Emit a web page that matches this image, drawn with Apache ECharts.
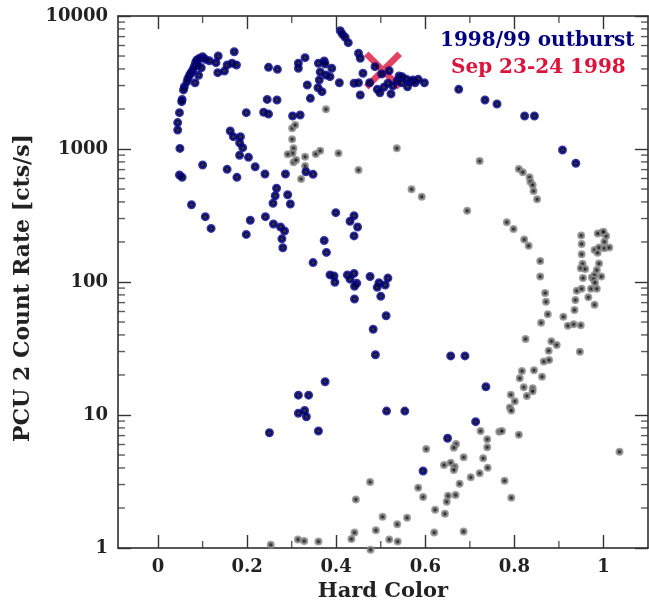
<!DOCTYPE html>
<html><head><meta charset="utf-8">
<script src="https://cdn.jsdelivr.net/npm/echarts@6/dist/echarts.min.js"></script>
<style>html,body{margin:0;padding:0;background:#fff}#c{width:649px;height:600px}</style>
</head><body><div id="c"></div>
<script>
// 1998/99 outburst (blue)
const blueHardColor = [0.100,0.106,0.115,0.130,0.135,0.093,0.087,0.084,0.089,0.081,0.097,0.078,0.074,0.071,0.091,0.067,0.065,0.083,0.059,0.057,0.054,0.053,0.048,0.044,0.044,0.049,0.100,0.134,0.149,0.155,0.166,0.176,0.171,0.248,0.268,0.245,0.267,0.198,0.237,0.248,0.302,0.319,0.315,0.315,0.162,0.169,0.185,0.183,0.190,0.183,0.203,0.218,0.155,
0.409,0.414,0.420,0.427,0.450,0.454,0.330,0.360,0.373,0.375,0.390,0.364,0.377,0.386,0.362,0.335,0.359,0.368,0.342,0.407,0.440,0.450,0.454,0.460,0.475,0.487,0.502,0.519,0.492,0.498,0.507,0.516,0.523,0.527,0.537,0.541,0.548,0.547,0.558,0.560,0.567,0.572,0.577,0.584,0.598,0.675,0.734,0.761,0.823,0.845,0.908,0.938,
0.048,0.054,0.177,0.240,0.286,0.266,0.263,0.291,0.258,0.297,0.075,0.106,0.119,0.207,0.198,0.241,0.259,0.275,0.284,0.278,0.280,
0.332,0.348,0.399,0.440,0.431,0.448,0.440,0.373,0.378,0.348,0.386,0.395,0.397,0.425,0.440,0.431,0.446,0.441,0.476,0.496,0.492,0.510,0.516,0.500,0.441,0.512,0.483,
0.250,0.315,0.338,0.315,0.329,0.333,0.360,0.375,0.488,0.513,0.554,0.657,0.689,0.736,0.713,0.650,0.595];
const blueRate = [4940,4720,4610,4460,5000,4810,4670,4460,4280,4160,4080,3930,3750,3600,3580,3400,3210,3150,2940,2780,2360,2270,1875,1580,1390,1010,758,3750,3855,4280,4410,4280,5390,4110,3970,2360,2335,1875,1890,1830,1770,1800,4410,4040,1365,1238,1238,1115,1023,897,866,736,703,
7750,7280,6920,6300,5250,4810,4860,4410,4590,4360,4040,3790,3600,3500,3300,3030,2890,2700,2405,3150,3120,3150,2546,3710,3150,4160,3665,3880,2810,2650,2910,3120,2595,2978,3265,3540,3500,3150,3342,2940,3210,3300,3150,3342,3150,2810,2335,2180,1770,1770,982,781,
638,612,612,649,649,507,445,453,391,386,381,310,253,291,228,310,273,259,242,211,181,
675,645,332,315,286,259,222,205,167,140,113,111,99.5,113,116,105,97.8,92.8,110,98.8,91.2,94.9,107,78.0,74.5,55.8,44.1,
7.36,14.1,14.1,10.3,10.8,9.71,7.58,17.8,28.4,10.7,10.7,27.8,27.8,16.3,8.91,6.68,3.79];
// other observations (grey)
const grayHardColor = [0.377,0.301,0.308,0.301,0.304,0.302,0.291,0.304,0.310,0.330,0.354,0.364,0.405,0.330,0.321,0.450,0.536,0.722,0.569,0.592,0.694,0.810,0.819,0.834,0.836,0.841,0.843,0.851,0.783,0.798,0.822,0.832,0.858,0.858,0.869,0.871,0.875,0.860,0.910,0.920,0.933,0.949,
0.950,0.951,0.951,0.953,0.949,0.959,0.954,0.940,0.951,0.937,0.935,0.966,0.980,0.972,0.985,0.974,0.980,0.978,0.985,0.981,0.995,0.990,0.980,0.987,0.990,1.002,1.013,1.002,1.006,0.996,0.987,1.000,
0.825,0.883,0.895,0.877,0.947,0.866,0.878,0.817,0.844,0.812,0.862,0.821,0.841,0.841,0.828,0.792,0.801,0.790,0.793,0.724,0.766,0.772,0.810,0.739,0.739,0.730,0.740,0.722,0.778,0.793,1.036,
0.669,0.664,0.602,0.686,0.657,0.642,0.666,0.664,0.702,0.677,0.476,0.584,0.595,0.651,0.668,0.444,
0.622,0.644,0.504,0.559,0.537,0.489,0.441,0.434,0.620,0.686,0.519,0.538,0.477,0.253,0.314,0.328,0.360,0.648];
const grayRate = [1987,1432,1515,1183,1012,929,912,794,827,875,917,971,929,745,595,695,1012,812,498,438,344,707,668,612,568,536,483,419,281,250,209,187,144,110,82.7,71.1,57.2,49.4,54.8,46.9,48.1,47.2,
224,193,162,137,127,125,107,86.0,89.1,73.2,61.6,76.7,67.5,89.1,89.1,108,113,105,123,98.8,110,138,174,166,182,179,182,201,222,235,232,239,
37.3,35.8,33.6,30.4,29.9,25.3,25.9,21.4,21.7,18.9,19.4,16.2,15.9,15.1,13.9,14.2,12.7,11.4,10.8,7.58,7.49,7.58,7.11,6.56,5.71,4.72,4.02,3.64,3.21,2.39,5.30,
6.05,5.68,5.55,4.81,4.38,4.21,4.09,3.86,3.40,3.04,3.13,2.84,2.42,2.47,2.50,2.32,
1.94,1.81,1.72,1.69,1.51,1.36,1.31,1.17,1.31,1.33,1.16,1.12,0.97,1.06,1.16,1.13,1.12,2.23];
// Sep 23-24 1998 marker
const sepHardColor = [0.505];
const sepRate = [3900];
// axis ticks
const xMajorTicks = [0,0.2,0.4,0.6,0.8,1];
const xMinorTicks = [0.1,0.3,0.5,0.7,0.9];
const yMinorTicks = [2,3,4,5,6,7,8,9,20,30,40,50,60,70,80,90,200,300,400,500,600,700,800,900,2000,3000,4000,5000,6000,7000,8000,9000];
const X_MIN = -0.09, X_MAX = 1.1, Y_MIN = 1, Y_MAX = 10000;

const FONT = '"DejaVu Serif", serif';
const zip = (a,b) => a.map((v,i)=>[v,b[i]]);
const lineCol = '#222';
const tickCol = '#333';

function xAx(pos, labels) {
  return {
    type:'value', position:pos, min:X_MIN, max:X_MAX,
    axisLine:{show:true, onZero:false, lineStyle:{color:lineCol,width:1.5}},
    axisTick:{show:true, inside:true, length:13, customValues:xMajorTicks, lineStyle:{color:tickCol,width:1.4}},
    axisLabel:{show:labels, customValues:xMajorTicks, margin:10, color:'#222', fontFamily:FONT, fontWeight:'bold', fontSize:18},
    splitLine:{show:false},
    name: (labels ? 'Hard Color' : ''), nameLocation:'middle', nameGap:31,
    nameTextStyle:{color:'#222', fontFamily:FONT, fontWeight:'bold', fontSize:21}
  };
}
function yAx(pos, labels) {
  return {
    type:'log', logBase:10, position:pos, min:Y_MIN, max:Y_MAX,
    axisLine:{show:true, onZero:false, lineStyle:{color:lineCol,width:1.5}},
    axisTick:{show:true, inside:true, length:13, lineStyle:{color:tickCol,width:1.4}},
    axisLabel:{show:labels, margin:10, color:'#222', fontFamily:FONT, fontWeight:'bold', fontSize:18,
      formatter:v=>String(Math.round(v))},
    splitLine:{show:false},
    name:(labels ? 'PCU 2 Count Rate [cts/s]' : ''), nameLocation:'middle', nameGap:68,
    nameTextStyle:{color:'#222', fontFamily:FONT, fontWeight:'bold', fontSize:22, padding:[0,12,0,0]}
  };
}
// minor tick marks drawn as thin rectangles placed through the axes' own scales
function tickSeries(data, size, offset) {
  return {type:'scatter', xAxisIndex:0, yAxisIndex:0, clip:false, silent:true, z:1,
    data:data, symbol:'rect', symbolSize:size, symbolOffset:offset,
    itemStyle:{color:tickCol}};
}

const chart = echarts.init(document.getElementById('c'));
chart.setOption({
  animation:false,
  title:[
    {text:'1998/99 outburst', left:440, top:31, padding:0, itemGap:0,
     textStyle:{color:'#000080', fontFamily:FONT, fontWeight:'bold', fontSize:20}},
    {text:'Sep 23-24 1998', left:451, top:58, padding:0, itemGap:0,
     textStyle:{color:'#DC143C', fontFamily:FONT, fontWeight:'bold', fontSize:20}}
  ],
  grid:{left:118, right:1, top:16, bottom:52, outerBoundsMode:'none'},
  xAxis:[xAx('bottom',true), xAx('top',false)],
  yAxis:[yAx('left',true), yAx('right',false)],
  series:[
    tickSeries(yMinorTicks.map(v=>[X_MIN,v]), [7,1.4], [3.5,0]),
    tickSeries(yMinorTicks.map(v=>[X_MAX,v]), [7,1.4], [-3.5,0]),
    tickSeries(xMinorTicks.map(v=>[v,Y_MIN]), [1.4,7], [0,-3.5]),
    tickSeries(xMinorTicks.map(v=>[v,Y_MAX]), [1.4,7], [0,3.5]),
    {type:'scatter', xAxisIndex:0, yAxisIndex:0, clip:false, data:zip(grayHardColor,grayRate),
     symbol:'circle', symbolSize:5.5, itemStyle:{color:'#000', borderColor:'#8a8a8a', borderWidth:2.5}, z:2},
    {type:'scatter', xAxisIndex:0, yAxisIndex:0, clip:false, data:zip(sepHardColor,sepRate),
     symbol:'path://M0,2.4L2.4,0L20,17.6L17.6,20Z M17.6,0L20,2.4L2.4,20L0,17.6Z', symbolSize:38,
     itemStyle:{color:'#DC143C'}, z:3},
    {type:'scatter', xAxisIndex:0, yAxisIndex:0, clip:false, data:zip(blueHardColor,blueRate),
     symbol:'circle', symbolSize:6, itemStyle:{color:'#000', borderColor:'#000080', borderWidth:3}, z:4}
  ]
});
</script>
</body></html>
